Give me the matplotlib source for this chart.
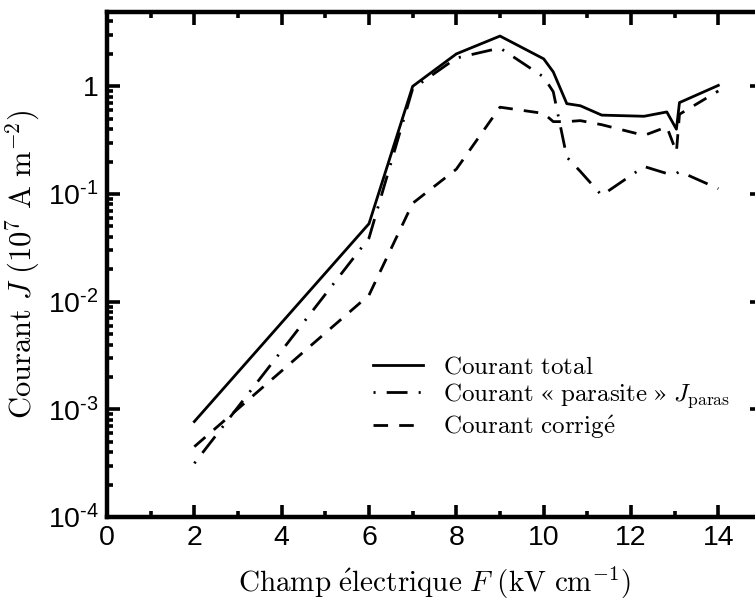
import matplotlib
matplotlib.use("Agg")
import matplotlib.pyplot as plt
import numpy as np

# ---- data ----
field_total = [2, 6, 7, 8, 9, 10, 10.22, 10.53, 10.84, 11.33, 12.3, 12.82, 13.04, 13.11, 14]
current_total = [7.7e-4, 0.053, 1.0, 2.0, 2.93, 1.8, 1.36, 0.69, 0.66, 0.54, 0.527, 0.578, 0.40, 0.706, 1.02]

field_paras = [2, 6, 7, 8, 9, 10, 10.22, 10.53, 10.84, 11.33, 12.3, 12.82, 13.04, 13.11, 14]
current_paras = [3.15e-4, 0.039, 0.95, 1.83, 2.27, 1.22, 0.89, 0.22, 0.162, 0.097, 0.18, 0.155, 0.155, 0.162, 0.112]

field_corr = [2, 6, 7, 8, 9, 10, 10.22, 10.53, 10.84, 11.33, 12.3, 12.82, 13.04, 13.11, 14]
current_corr = [4.5e-4, 0.0115, 0.082, 0.17, 0.64, 0.56, 0.47, 0.47, 0.48, 0.44, 0.35, 0.42, 0.245, 0.55, 0.905]

x_ticks = [0, 2, 4, 6, 8, 10, 12, 14]
y_ticks = [1e-4, 1e-3, 1e-2, 1e-1, 1]
y_ticklabels = ["$\\mathregular{10^{\u20104}}$", "$\\mathregular{10^{\u20103}}$",
                "$\\mathregular{10^{\u20102}}$", "$\\mathregular{10^{\u20101}}$", "1"]

labels = [r"$\mathrm{Courant\ total}$",
          r"$\mathrm{Courant\ \guillemotleft\ parasite\ \guillemotright}\ J_{\mathrm{paras}}$",
          r"$\mathrm{Courant\ corrig\acute{e}}$"]
xlabel = r"$\mathrm{Champ\ \acute{e}lectrique}\ F\ (\mathrm{kV\ cm}^{-1})$"
ylabel = r"$\mathrm{Courant}\ J\ (10^{7}\ \mathrm{A\ m}^{-2})$"

# ---- style ----
plt.rcParams['font.family'] = ['Liberation Sans', 'DejaVu Sans']
plt.rcParams['mathtext.fontset'] = 'custom'
plt.rcParams['mathtext.rm'] = 'Liberation Sans'
plt.rcParams['mathtext.it'] = 'Liberation Sans:italic'
plt.rcParams['mathtext.bf'] = 'Liberation Sans:bold'
plt.rcParams['lines.scale_dashes'] = False

W, H = 755, 610
fig = plt.figure(figsize=(W / 100, H / 100), dpi=100)
ax = fig.add_axes([107 / W, (H - 517) / H, (762 - 107) / W, (517 - 12) / H])

lw = 2.0
ax.plot(field_total, current_total, color='black', lw=lw, linestyle='-', label=labels[0])
ax.plot(field_paras, current_paras, color='black', lw=lw,
        linestyle=(0, (1.5, 8, 15, 8)), label=labels[1])
ax.plot(field_corr, current_corr, color='black', lw=lw,
        linestyle=(0, (10.5, 8)), label=labels[2])

ax.set_yscale('log')
ax.set_xlim(0, 15)
ax.set_ylim(1e-4, 4.9)

ax.set_xticks(x_ticks)
ax.set_xticklabels([str(v) for v in x_ticks])
ax.set_xticks(np.arange(0, 15.5, 1), minor=True)
ax.set_yticks(y_ticks)
ax.set_yticklabels(y_ticklabels)
ax.yaxis.set_minor_locator(matplotlib.ticker.LogLocator(base=10, subs=np.arange(2, 10)))
ax.yaxis.set_minor_formatter(matplotlib.ticker.NullFormatter())

ax.tick_params(which='both', direction='in', top=True, right=True, width=2.6)
ax.tick_params(which='major', length=9, labelsize=20.5, pad=6)
ax.tick_params(which='minor', length=4.5)
for s in ax.spines.values():
    s.set_linewidth(3.2)

ax.set_xlabel(xlabel, fontsize=21, math_fontfamily='cm', labelpad=10)
ax.set_ylabel(ylabel, fontsize=22, math_fontfamily='cm', labelpad=4)

leg = fig.legend(loc='upper left', bbox_to_anchor=(373 / W, 1 - 355 / H), frameon=False,
                 handlelength=2.0, handletextpad=0.8, labelspacing=0.1,
                 borderpad=0, borderaxespad=0, fontsize=18)
for t in leg.get_texts():
    t.set_math_fontfamily('cm')

fig.savefig('out.png', dpi=100)
